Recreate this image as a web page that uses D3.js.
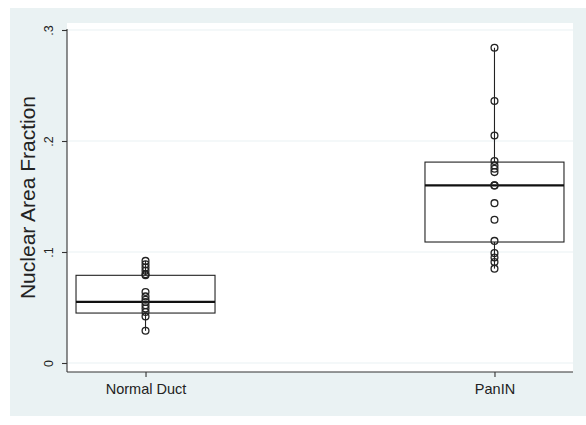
<!DOCTYPE html>
<html>
<head>
<meta charset="utf-8">
<script src="https://cdn.jsdelivr.net/npm/d3@7"></script>
<style>
  body { margin: 0; background: #fff; }
  text { font-family: "Liberation Sans", Arial, sans-serif; fill: #222; }
</style>
</head>
<body>
<div id="chart"></div>
<script>
const groups = ["Normal Duct", "PanIN"];
const normalDuct = [0.092, 0.089, 0.086, 0.083, 0.080, 0.079,
                    0.064, 0.060, 0.057, 0.055, 0.052, 0.049, 0.046, 0.042, 0.029];
const panIN = [0.284, 0.236, 0.205, 0.182, 0.178, 0.175, 0.172,
               0.160, 0.160, 0.144, 0.129, 0.110, 0.099, 0.095, 0.091, 0.085];

// box summaries: lower whisker, q1, median, q3, upper whisker
const boxLow = [0.029, 0.085];
const boxQ1 = [0.045, 0.109];
const boxMedian = [0.055, 0.160];
const boxQ3 = [0.079, 0.181];
const boxHigh = [0.092, 0.284];

const yTicks = [0, 0.1, 0.2, 0.3];
const yTickLabels = ["0", ".1", ".2", ".3"];

const width = 586, height = 425;
const bgColor = "#eaf2f3";
const plot = {left: 67, right: 573, top: 23, bottom: 372};

const svg = d3.select("#chart").append("svg")
  .attr("width", width)
  .attr("height", height);

// outer graph region
svg.append("rect")
  .attr("x", 10).attr("y", 8)
  .attr("width", width - 10).attr("height", 408)
  .attr("fill", bgColor);

// plot region
svg.append("rect")
  .attr("x", plot.left).attr("y", plot.top)
  .attr("width", plot.right - plot.left).attr("height", plot.bottom - plot.top)
  .attr("fill", "#fff");

const y = d3.scaleLinear().domain([0, 0.3]).range([363, 30]);
const x = d3.scalePoint().domain(groups).range([plot.left, plot.right]).padding(0.225);
const boxWidth = 139;

// gridlines
svg.append("g")
  .selectAll("line")
  .data(yTicks)
  .enter()
  .append("line")
  .attr("x1", plot.left).attr("x2", plot.right)
  .attr("y1", d => y(d)).attr("y2", d => y(d))
  .attr("stroke", bgColor)
  .attr("stroke-width", 1.2);

// y axis
const yAxis = d3.axisLeft(y)
  .tickValues(yTicks)
  .tickFormat((d, i) => yTickLabels[i])
  .tickSize(5)
  .tickPadding(4);

const gy = svg.append("g")
  .attr("transform", `translate(${plot.left}, 0)`)
  .call(yAxis);
gy.select(".domain").attr("d", `M0,${plot.top + 6}V${plot.bottom}`);
gy.selectAll("text")
  .attr("transform", "rotate(-90)")
  .attr("x", 0).attr("y", -14).attr("dy", 0)
  .style("text-anchor", "middle")
  .style("font-size", "12.5px");
gy.selectAll(".domain, .tick line").attr("stroke", "#333").attr("stroke-width", 1.1);

// x axis
const xAxis = d3.axisBottom(x).tickSize(5).tickPadding(7);
const gx = svg.append("g")
  .attr("transform", `translate(0, ${plot.bottom})`)
  .call(xAxis);
gx.select(".domain").attr("d", `M${plot.left},0H${plot.right}`);
gx.selectAll(".domain, .tick line").attr("stroke", "#333").attr("stroke-width", 1.1);
gx.selectAll("text").style("font-size", "14.5px");

// y title
svg.append("text")
  .attr("transform", `translate(35, ${(plot.top + plot.bottom) / 2}) rotate(-90)`)
  .style("text-anchor", "middle")
  .style("font-size", "21px")
  .text("Nuclear Area Fraction");

// boxes
const boxes = groups.map((g, i) => ({
  group: g, low: boxLow[i], q1: boxQ1[i], median: boxMedian[i], q3: boxQ3[i], high: boxHigh[i]
}));

const boxG = svg.append("g");

boxG.selectAll("line.whisker")
  .data(boxes)
  .enter()
  .append("line")
  .attr("class", "whisker")
  .attr("x1", d => x(d.group)).attr("x2", d => x(d.group))
  .attr("y1", d => y(d.high)).attr("y2", d => y(d.low))
  .attr("stroke", "#222")
  .attr("stroke-width", 1.1);

boxG.selectAll("rect")
  .data(boxes)
  .enter()
  .append("rect")
  .attr("x", d => x(d.group) - boxWidth / 2)
  .attr("width", boxWidth)
  .attr("y", d => y(d.q3))
  .attr("height", d => y(d.q1) - y(d.q3))
  .attr("fill", "#fff")
  .attr("stroke", "#222")
  .attr("stroke-width", 1.1);

boxG.selectAll("line.median")
  .data(boxes)
  .enter()
  .append("line")
  .attr("class", "median")
  .attr("x1", d => x(d.group) - boxWidth / 2).attr("x2", d => x(d.group) + boxWidth / 2)
  .attr("y1", d => y(d.median)).attr("y2", d => y(d.median))
  .attr("stroke", "#111")
  .attr("stroke-width", 2.2);

// points
const points = [];
normalDuct.forEach(v => points.push({group: groups[0], value: v}));
panIN.forEach(v => points.push({group: groups[1], value: v}));

svg.append("g")
  .selectAll("circle")
  .data(points)
  .enter()
  .append("circle")
  .attr("cx", d => x(d.group))
  .attr("cy", d => y(d.value))
  .attr("r", 3.4)
  .attr("fill", "none")
  .attr("stroke", "#222")
  .attr("stroke-width", 1.3);
</script>
</body>
</html>
